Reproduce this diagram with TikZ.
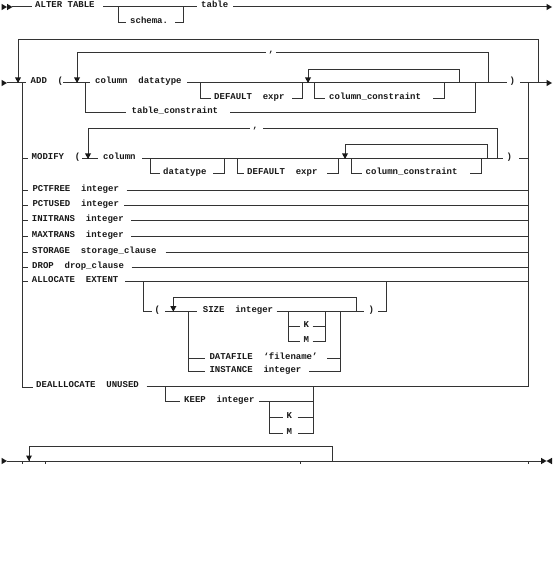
\documentclass[tikz,border=0pt]{standalone}
\usepackage{fontspec}
\newfontfamily\rrfont{Liberation Mono}
\tikzset{
  rr/.style={line width=1pt, draw=black!80},
  kw/.style={anchor=base west, inner sep=0pt, font=\rrfont\bfseries\fontsize{9pt}{10pt}\selectfont, text=black!90},
  tick/.style={line width=0.7pt, draw=black!80},
  rtri/.pic={\fill[black!90] (-5.5,-3.2) -- (0,0) -- (-5.5,3.2) -- cycle;},
  ltri/.pic={\fill[black!90] (5.5,-3.2) -- (0,0) -- (5.5,3.2) -- cycle;},
  dtri/.pic={\fill[black!90] (-3,-5.5) -- (3,-5.5) -- (0,0) -- cycle;},
}
\begin{document}
\begin{tikzpicture}[x=1pt,y=-1pt]
\useasboundingbox[fill=white] (0,0) rectangle (554,580);

% ---------- Row 1: ALTER TABLE [schema.] table
\pic at (7,7) {rtri}; \pic at (12.5,7) {rtri};
\draw[rr] (12,7) -- (32,7);
\node[kw] (alter) at (35,8) {ALTER TABLE};
\draw[rr] (103,7) -- (197,7);
\draw[rr] (118,7) -- (118,23) -- (126,23);
\node[kw] (schema) at (130,24) {schema.};
\draw[rr] (175,23) -- (183,23) -- (183,7);
\node[kw] (table) at (201,8) {table};
\draw[rr] (233,7) -- (547,7);
\pic at (552,7) {rtri};

% ---------- ADD row
\coordinate (lb) at (22,83);
\coordinate (rb) at (528,83);
\pic at (7,83) {rtri};
\draw[rr] (7,83) -- (26,83);
\draw[rr] (18,83) -- (18,40) -- (538,40) -- (538,83);
\pic at (18,83) {dtri};
\node[kw] (add) at (30.5,84) {ADD~~(};
\draw[rr] (63,83) -- (90,83);
\draw[rr] (77,83) -- (77,53) -- (266,53);
\node[kw] (c1) at (268.5,53) {,};
\draw[rr] (276,53) -- (488,53) -- (488,83);
\pic at (77,83) {dtri};
\node[kw] (coldt) at (95,84) {column~~datatype};
\draw[rr] (187,83) -- (507,83);
\draw[rr] (200,83) -- (200,99) -- (211,99);
\node[kw] (def1) at (214,100) {DEFAULT~~expr};
\draw[rr] (292,99) -- (302,99) -- (302,83);
\draw[rr] (308,83) -- (308,70) -- (459,70) -- (459,83);
\pic at (308,83) {dtri};
\draw[rr] (314,83) -- (314,99) -- (325,99);
\node[kw] (cc1) at (329,100) {column\_constraint};
\draw[rr] (433,99) -- (444,99) -- (444,83);
\draw[rr] (85,83) -- (85,113) -- (126,113);
\node[kw] (tc) at (131.5,114) {table\_constraint};
\draw[rr] (230,113) -- (475,113) -- (475,83);
\node[kw] (p1) at (509.5,84) {)};
\draw[rr] (520,83) -- (547,83);
\pic at (552,83) {rtri};

% ---------- buses
\draw[rr] (rb) -- (528,387);
\draw[rr] (lb) -- (22,387) -- (33,387);

% ---------- MODIFY row
\draw[rr] (22,159) -- (28,159);
\node[kw] (modify) at (31.5,160) {MODIFY~~(};
\draw[rr] (82,159) -- (98,159);
\draw[rr] (88,159) -- (88,129) -- (250,129);
\node[kw] (c2) at (252.5,129) {,};
\draw[rr] (263,129) -- (497.5,129) -- (497.5,159);
\pic at (88,159) {dtri};
\node[kw] (col2) at (103,160) {column};
\draw[rr] (142,159) -- (503,159);
\draw[rr] (150.5,159) -- (150.5,173) -- (160,173);
\node[kw] (dt2) at (163,174) {datatype};
\draw[rr] (213,173) -- (224,173) -- (224,159);
\draw[rr] (237,159) -- (237,173) -- (244,173);
\node[kw] (def2) at (247,174) {DEFAULT~~expr};
\draw[rr] (327,173) -- (338,173) -- (338,159);
\draw[rr] (345,159) -- (345,145) -- (487,145) -- (487,159);
\pic at (345,159) {dtri};
\draw[rr] (351,159) -- (351,173) -- (362,173);
\node[kw] (cc2) at (365.5,174) {column\_constraint};
\draw[rr] (470,173) -- (481,173) -- (481,159);
\node[kw] (p2) at (506.5,160) {)};
\draw[rr] (519,159) -- (528,159);

% ---------- simple rows
\draw[rr] (22,190.5) -- (28,190.5);
\node[kw] (pctfree) at (32.3,191.5) {PCTFREE~~integer};
\draw[rr] (126.5,190.5) -- (528,190.5);
\draw[rr] (22,205) -- (28,205);
\node[kw] (pctused) at (32.3,206) {PCTUSED~~integer};
\draw[rr] (124,205) -- (528,205);
\draw[rr] (22,220.7) -- (28,220.7);
\node[kw] (initrans) at (31.7,221.7) {INITRANS~~integer};
\draw[rr] (131,220.7) -- (528,220.7);
\draw[rr] (22,236.5) -- (28,236.5);
\node[kw] (maxtrans) at (31.7,237.5) {MAXTRANS~~integer};
\draw[rr] (131,236.5) -- (528,236.5);
\draw[rr] (22,252.3) -- (28,252.3);
\node[kw] (storage) at (32,253.3) {STORAGE~~storage\_clause};
\draw[rr] (165.5,252.3) -- (528,252.3);
\draw[rr] (22,267) -- (28,267);
\node[kw] (drop) at (32,268) {DROP~~drop\_clause};
\draw[rr] (131.5,267) -- (528,267);

% ---------- ALLOCATE EXTENT
\draw[rr] (22,281.7) -- (28,281.7);
\node[kw] (alloc) at (31.7,282.7) {ALLOCATE~~EXTENT};
\draw[rr] (125,281.7) -- (528,281.7);
\draw[rr] (143.3,281.7) -- (143.3,311.7) -- (151.7,311.7);
\node[kw] (p3) at (154.5,312.7) {(};
\draw[rr] (165,311.7) -- (197,311.7);
\draw[rr] (173.3,311.7) -- (173.3,297.7) -- (356,297.7) -- (356,311.7);
\pic at (173.3,311.7) {dtri};
\draw[rr] (188.3,311.7) -- (188.3,371.7);
\node[kw] (size) at (202.7,312.7) {SIZE~~integer};
\draw[rr] (276.7,311.7) -- (364,311.7);
\node[kw] (p4) at (368.5,312.7) {)};
\draw[rr] (378,311.7) -- (386,311.7) -- (386,281.7);
\draw[rr] (288.3,311.7) -- (288.3,341) -- (300,341);
\draw[rr] (288.3,326.7) -- (300,326.7);
\node[kw] (k1) at (303.5,327.7) {K};
\draw[rr] (312.7,326.7) -- (325.7,326.7);
\node[kw] (m1) at (303.5,342) {M};
\draw[rr] (312.7,341) -- (325.7,341) -- (325.7,311.7);
\draw[rr] (340,311.7) -- (340,371.7) -- (309.3,371.7);
\draw[rr] (188.3,358.3) -- (205,358.3);
\node[kw] (datafile) at (209.3,359.3) {DATAFILE~~‘filename’};
\draw[rr] (327,358.3) -- (340,358.3);
\draw[rr] (188.3,371.7) -- (205,371.7);
\node[kw] (instance) at (209.3,372.7) {INSTANCE~~integer};

% ---------- DEALLOCATE UNUSED
\node[kw] (dealloc) at (36,387.7) {DEALLLOCATE~~UNUSED};
\draw[rr] (146.7,386.7) -- (528,386.7);
\draw[rr] (165,386.7) -- (165,401.7) -- (180,401.7);
\node[kw] (keep) at (184,402.7) {KEEP~~integer};
\draw[rr] (259.3,401.7) -- (313.3,401.7);
\draw[rr] (313.3,386.7) -- (313.3,433) -- (297.7,433);
\draw[rr] (269.3,401.7) -- (269.3,433) -- (283,433);
\draw[rr] (269.3,417.5) -- (283,417.5);
\node[kw] (k2) at (286.5,418.5) {K};
\draw[rr] (297.7,417.5) -- (313.3,417.5);
\node[kw] (m2) at (286.5,434) {M};

% ---------- bottom row
\pic at (7,461) {rtri};
\draw[rr] (7,461) -- (541,461);
\draw[rr] (29,461) -- (29,446.7) -- (332.7,446.7) -- (332.7,461);
\pic at (29,461) {dtri};
\foreach \tx in {22,45.7,300.7,528.3} \draw[tick] (\tx,461) -- (\tx,463.5);
\pic at (546.5,461) {rtri};
\pic at (546.5,461) {ltri};
\end{tikzpicture}
\end{document}
